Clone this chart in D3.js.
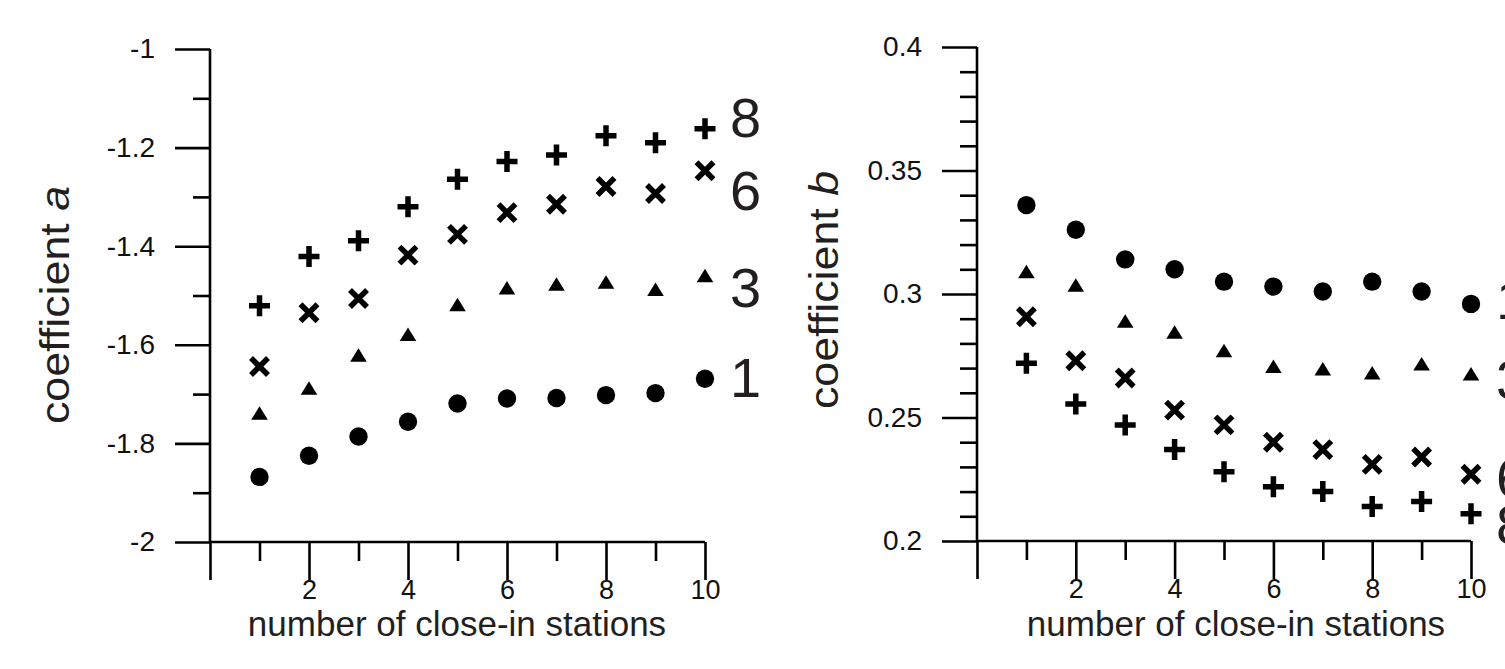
<!DOCTYPE html>
<html>
<head>
<meta charset="utf-8">
<script src="https://cdn.jsdelivr.net/npm/d3@7"></script>
<style>
  body { margin: 0; background: #fff; }
  svg { display: block; }
  text { font-family: "Liberation Sans", Arial, sans-serif; }
</style>
</head>
<body>
<svg id="chart"></svg>
<script>
// number of close-in stations
const stations = [1, 2, 3, 4, 5, 6, 7, 8, 9, 10];

// coefficient a (left panel), one array per symbol
const aDots  = [-1.868, -1.825, -1.786, -1.756, -1.719, -1.709, -1.708, -1.702, -1.698, -1.669];
const aTri   = [-1.739, -1.688, -1.621, -1.579, -1.519, -1.485, -1.477, -1.473, -1.488, -1.460];
const aCross = [-1.644, -1.535, -1.506, -1.418, -1.376, -1.332, -1.315, -1.279, -1.293, -1.247];
const aPlus  = [-1.521, -1.421, -1.389, -1.320, -1.264, -1.228, -1.215, -1.176, -1.190, -1.162];

// coefficient b (right panel)
const bDots  = [0.336, 0.326, 0.314, 0.310, 0.305, 0.303, 0.301, 0.305, 0.301, 0.296];
const bTri   = [0.309, 0.3035, 0.289, 0.2845, 0.277, 0.2706, 0.2696, 0.268, 0.2717, 0.2676];
const bCross = [0.2908, 0.273, 0.266, 0.253, 0.247, 0.240, 0.237, 0.231, 0.234, 0.227];
const bPlus  = [0.272, 0.2555, 0.247, 0.237, 0.228, 0.222, 0.220, 0.214, 0.216, 0.211];

// end labels of the curves and where they sit (in data units)
const seriesNames = ["1", "3", "6", "8"];
const aLabelAt = [-1.667, -1.483, -1.287, -1.139];
const bLabelAt = [0.2976, 0.2652, 0.2259, 0.2065];

// tick values
const aMajor = [-2, -1.8, -1.6, -1.4, -1.2, -1];
const aMinor = [-1.9, -1.7, -1.5, -1.3, -1.1];
const bMajor = [0.2, 0.25, 0.3, 0.35, 0.4];
const bMinor = [0.21, 0.22, 0.23, 0.24, 0.26, 0.27, 0.28, 0.29,
                0.31, 0.32, 0.33, 0.34, 0.36, 0.37, 0.38, 0.39];
const xMajor = [0, 2, 4, 6, 8, 10];
const xMinor = [1, 3, 5, 7, 9];

const W = 1505, H = 669;
const svg = d3.select("#chart").attr("width", W).attr("height", H);

const symbols = ["dot", "tri", "cross", "plus"];

function drawPanel(cfg) {
    const x = d3.scaleLinear().domain([0, 10]).range(cfg.xRange);
    const y = d3.scaleLinear().domain(cfg.yDomain).range(cfg.yRange);
    const g = svg.append("g");

    // y axis, major ticks with labels
    g.append("g")
        .attr("transform", `translate(${cfg.xRange[0]},0)`)
        .call(d3.axisLeft(y).tickValues(cfg.yMajor).tickSize(35).tickSizeOuter(0)
            .tickPadding(20).tickFormat(cfg.yFormat))
        .call(a => a.select(".domain").remove())
        .call(a => a.selectAll("text").attr("font-size", 28).attr("fill", "#111"));
    // y axis, minor ticks
    g.append("g")
        .attr("transform", `translate(${cfg.xRange[0]},0)`)
        .call(d3.axisLeft(y).tickValues(cfg.yMinor).tickSize(17).tickFormat(""))
        .call(a => a.select(".domain").remove());

    // x axis
    g.append("g")
        .attr("transform", `translate(0,${cfg.yRange[0]})`)
        .call(d3.axisBottom(x).tickValues(xMajor).tickSize(38).tickSizeOuter(0)
            .tickPadding(0).tickFormat(d => d === 0 ? "" : String(d)))
        .call(a => a.select(".domain").remove())
        .call(a => a.selectAll("text").attr("font-size", 27).attr("fill", "#111"));
    g.append("g")
        .attr("transform", `translate(0,${cfg.yRange[0]})`)
        .call(d3.axisBottom(x).tickValues(xMinor).tickSize(19).tickFormat(""))
        .call(a => a.select(".domain").remove());

    // axis lines
    g.append("line")
        .attr("x1", x(0)).attr("x2", x(0))
        .attr("y1", y(cfg.yDomain[1])).attr("y2", y(cfg.yDomain[0]));
    g.append("line")
        .attr("x1", x(0)).attr("x2", x(10))
        .attr("y1", y(cfg.yDomain[0])).attr("y2", y(cfg.yDomain[0]));

    g.selectAll("line").attr("stroke", "#000").attr("stroke-width", 2.6);

    // markers
    cfg.series.forEach((vals, i) => {
        const kind = symbols[i];
        const pts = g.append("g").selectAll("g")
            .data(stations.map((s, j) => [s, vals[j]]))
            .join("g")
            .attr("transform", d => `translate(${x(d[0])},${y(d[1])})`);
        if (kind === "dot") {
            pts.append("circle").attr("r", 9.2).attr("fill", "#000");
        } else if (kind === "tri") {
            pts.append("path").attr("d", "M0,-7 L8.3,6.5 L-8.3,6.5 Z").attr("fill", "#000");
        } else if (kind === "cross") {
            pts.append("path").attr("d", "M-8.5,-8.5 L8.5,8.5 M-8.5,8.5 L8.5,-8.5")
                .attr("stroke", "#000").attr("stroke-width", 5.5);
        } else {
            pts.append("path").attr("d", "M-10.5,0 L10.5,0 M0,-10.5 L0,10.5")
                .attr("stroke", "#000").attr("stroke-width", 5.5);
        }
    });

    // curve labels
    g.selectAll(".curve-label")
        .data(seriesNames)
        .join("text")
        .attr("class", "curve-label")
        .attr("x", x(10) + 25)
        .attr("y", (d, i) => y(cfg.labelAt[i]))
        .attr("dominant-baseline", "central")
        .attr("font-size", 56)
        .attr("fill", "#231f20")
        .text(d => d);

    // axis titles
    g.append("text")
        .attr("x", cfg.xTitleX)
        .attr("y", 636)
        .attr("text-anchor", "middle")
        .attr("font-size", 35)
        .attr("fill", "#231f20")
        .text("number of close-in stations");

    const yt = g.append("text")
        .attr("transform", `translate(${cfg.yTitleX},${cfg.yTitleY}) rotate(-90) scale(1.12,1)`)
        .attr("text-anchor", "middle")
        .attr("font-size", 40)
        .attr("fill", "#231f20");
    yt.append("tspan").text("coefficient ");
    yt.append("tspan").attr("font-style", "italic").text(cfg.yVar);
}

drawPanel({
    xRange: [210, 705],
    yDomain: [-2, -1],
    yRange: [542, 49],
    yMajor: aMajor,
    yMinor: aMinor,
    yFormat: d => String(+d.toFixed(1)),
    series: [aDots, aTri, aCross, aPlus],
    labelAt: aLabelAt,
    yVar: "a",
    xTitleX: 457,
    yTitleX: 69,
    yTitleY: 305
});

drawPanel({
    xRange: [977, 1471],
    yDomain: [0.2, 0.4],
    yRange: [541, 47],
    yMajor: bMajor,
    yMinor: bMinor,
    yFormat: d => String(+d.toFixed(2)),
    series: [bDots, bTri, bCross, bPlus],
    labelAt: bLabelAt,
    yVar: "b",
    xTitleX: 1236,
    yTitleX: 838,
    yTitleY: 290
});
</script>
</body>
</html>
